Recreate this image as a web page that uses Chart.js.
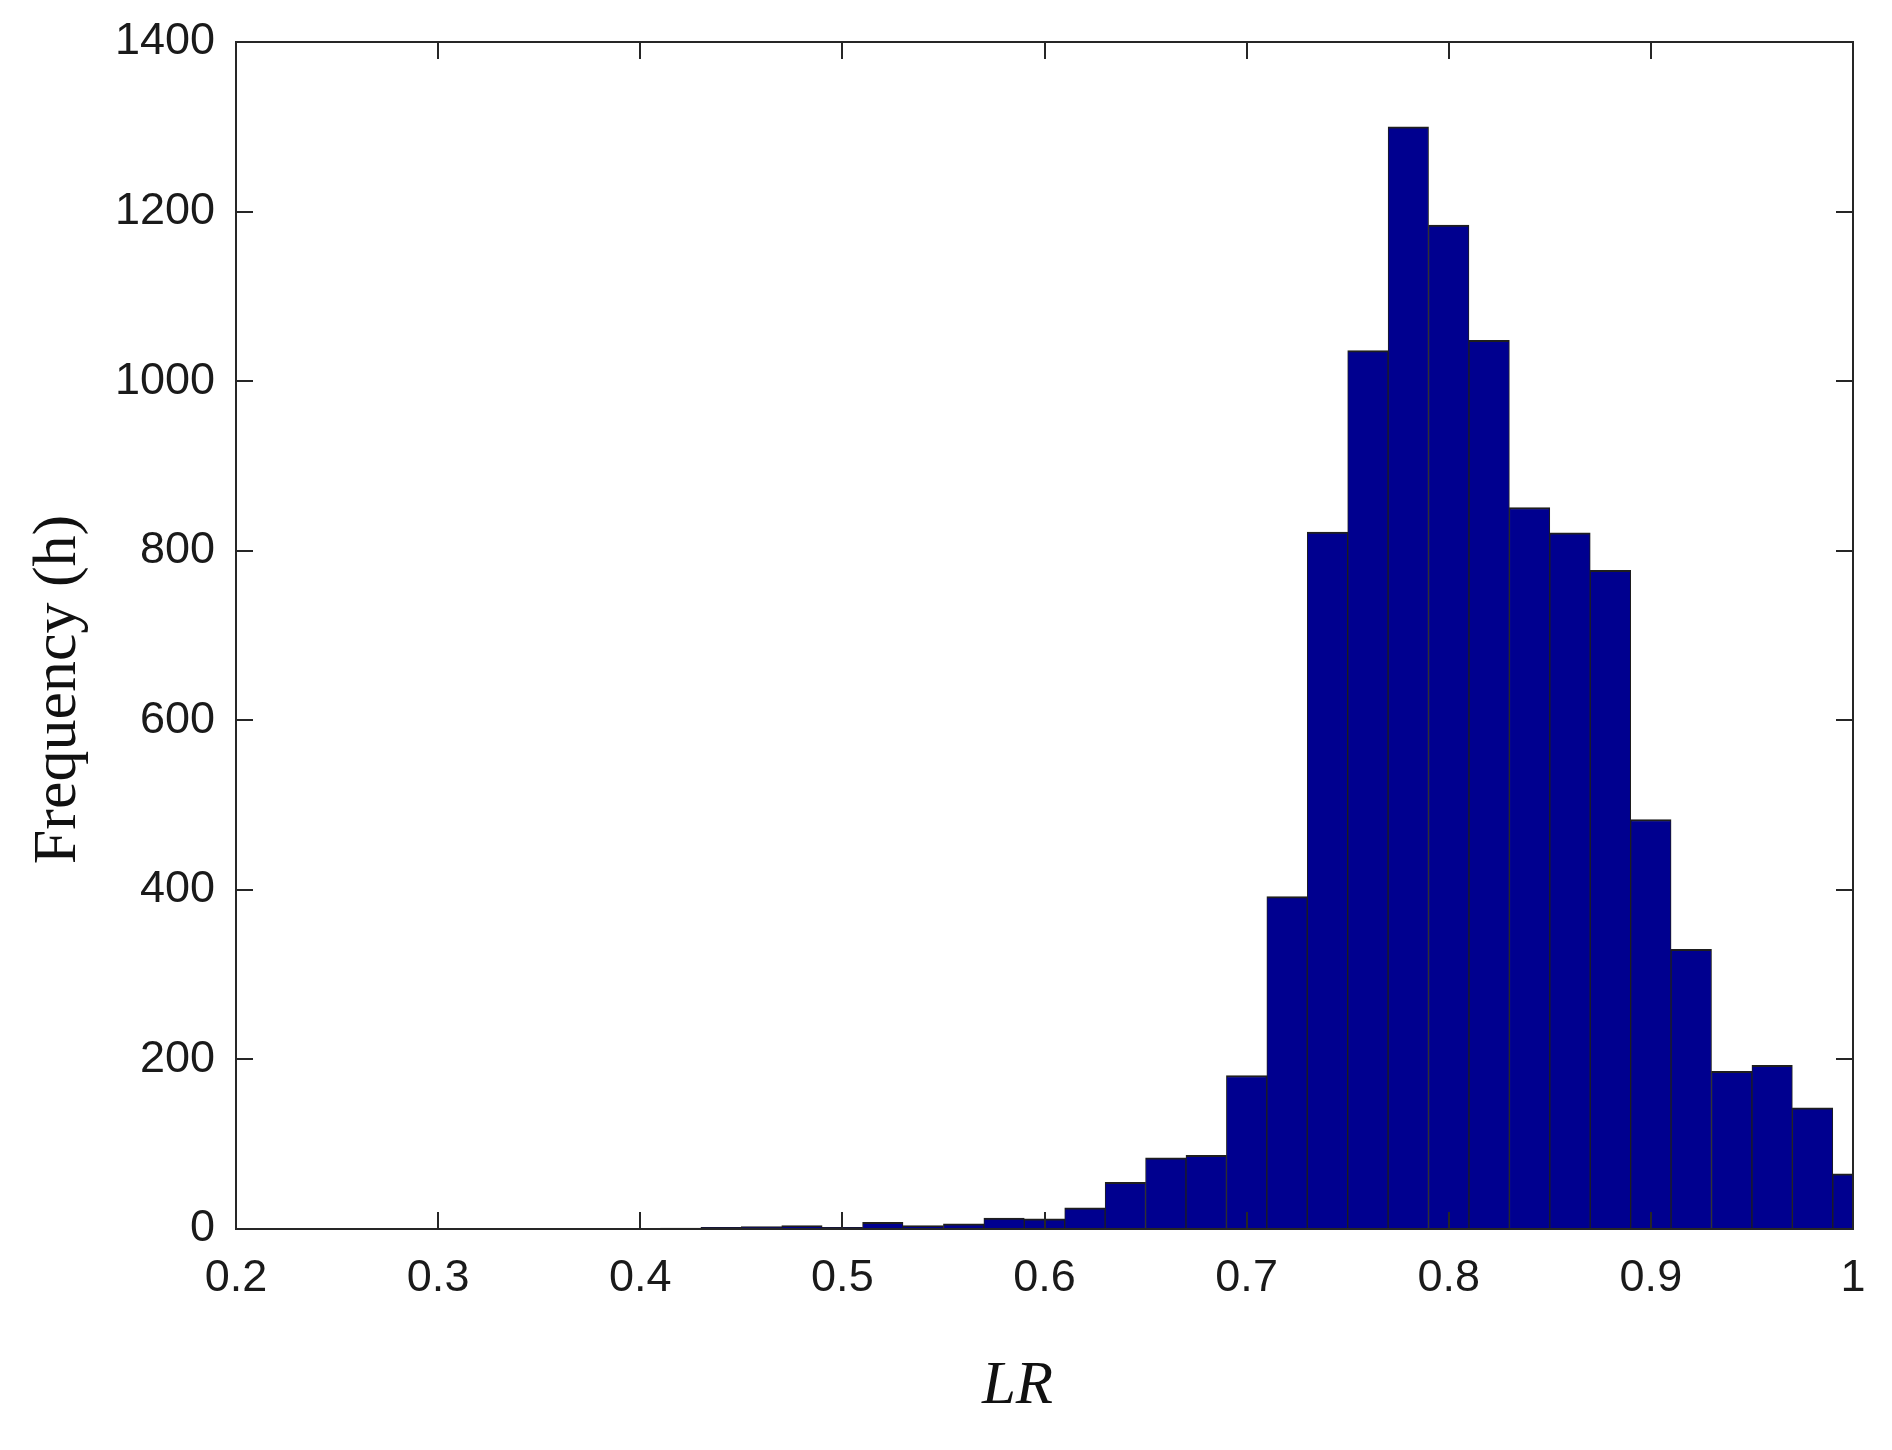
<!DOCTYPE html>
<html>
<head>
<meta charset="utf-8">
<script src="https://cdn.jsdelivr.net/npm/chart.js@4"></script>
<style>
  body { margin: 0; background: #fff; }
  #grafico { display: block; }
</style>
</head>
<body>
<canvas id="grafico" width="1892" height="1450"></canvas>
<script>
const centros = [0.22, 0.24, 0.26, 0.28, 0.30, 0.32, 0.34, 0.36, 0.38, 0.40,
    0.42, 0.44, 0.46, 0.48, 0.50, 0.52, 0.54, 0.56, 0.58, 0.60,
    0.62, 0.64, 0.66, 0.68, 0.70, 0.72, 0.74, 0.76, 0.78, 0.80,
    0.82, 0.84, 0.86, 0.88, 0.90, 0.92, 0.94, 0.96, 0.98, 1.00];
const frecuencias = [0, 0, 0, 0, 0, 0, 0, 0, 0, 0,
    1, 2, 3, 4, 2, 8, 4, 6, 13, 12,
    25, 55, 84, 87, 181, 392, 822, 1036, 1300, 1184,
    1048, 851, 821, 777, 483, 330, 186, 193, 143, 65];

// Marcas de los ejes
const ticksX = [0.2, 0.3, 0.4, 0.5, 0.6, 0.7, 0.8, 0.9, 1];
const ticksY = [0, 200, 400, 600, 800, 1000, 1200, 1400];

const tituloX = 'LR';
const tituloY = 'Frequency (h)';

const colorEje = '#262626';
const colorTexto = '#1a1a1a';

// Plugin para el marco, las marcas hacia dentro y los títulos
const marcoPlugin = {
    id: 'marco',
    afterDraw: (chart) => {
        const { ctx, chartArea: a, scales: { x, y } } = chart;
        const largo = 17;
        ctx.save();
        ctx.strokeStyle = colorEje;
        ctx.lineWidth = 2;
        ctx.beginPath();
        ctx.rect(a.left, a.top, a.right - a.left, a.bottom - a.top);
        ctx.stroke();

        ctx.beginPath();
        x.ticks.forEach(t => {
            const px = Math.round(x.getPixelForValue(t.value));
            ctx.moveTo(px, a.bottom);
            ctx.lineTo(px, a.bottom - largo);
            ctx.moveTo(px, a.top);
            ctx.lineTo(px, a.top + largo);
        });
        y.ticks.forEach(t => {
            const py = Math.round(y.getPixelForValue(t.value));
            ctx.moveTo(a.left, py);
            ctx.lineTo(a.left + largo, py);
            ctx.moveTo(a.right, py);
            ctx.lineTo(a.right - largo, py);
        });
        ctx.stroke();

        // títulos de los ejes
        ctx.fillStyle = '#111';
        ctx.textAlign = 'center';
        ctx.textBaseline = 'alphabetic';
        ctx.font = 'italic 61px "Liberation Serif"';
        ctx.fillText(tituloX, (a.left + a.right) / 2 - 27, a.bottom + 174);

        ctx.font = '62px "Liberation Serif"';
        ctx.translate(a.left - 161, (a.top + a.bottom) / 2 + 54);
        ctx.rotate(-Math.PI / 2);
        ctx.fillText(tituloY, 0, 0);
        ctx.restore();
    }
};

const ctx = document.getElementById('grafico').getContext('2d');

new Chart(ctx, {
    type: 'bar',
    data: {
        datasets: [{
            label: 'Frequency',
            data: centros.map((c, i) => ({ x: c, y: frecuencias[i] })),
            backgroundColor: '#00008F',
            borderColor: '#1e1e1e',
            borderWidth: { top: 2, left: 1, right: 1, bottom: 0 },
            borderSkipped: false,
            categoryPercentage: 1,
            barPercentage: 1,
            clip: 0
        }]
    },
    options: {
        responsive: false,
        animation: false,
        events: [],
        layout: {
            padding: { top: 42, right: 39, bottom: 0, left: 0 }
        },
        plugins: {
            legend: { display: false },
            tooltip: { enabled: false }
        },
        scales: {
            x: {
                type: 'linear',
                min: 0.2,
                max: 1,
                offset: false,
                afterBuildTicks: (eje) => {
                    eje.ticks = ticksX.map(v => ({ value: v }));
                },
                afterFit: (eje) => {
                    eje.height = 221;
                },
                grid: { display: false, offset: false, drawTicks: false },
                border: { display: false },
                ticks: {
                    padding: 23,
                    maxRotation: 0,
                    autoSkip: false,
                    color: colorTexto,
                    font: { family: '"Liberation Sans"', size: 45 },
                    callback: (v) => String(Number(v.toFixed(1)))
                }
            },
            y: {
                min: 0,
                max: 1400,
                afterBuildTicks: (eje) => {
                    eje.ticks = ticksY.map(v => ({ value: v }));
                },
                afterFit: (eje) => {
                    eje.width = 236;
                    eje.paddingTop = 0;
                    eje.paddingBottom = 0;
                },
                grid: { display: false, drawTicks: false },
                border: { display: false },
                ticks: {
                    padding: 21,
                    autoSkip: false,
                    color: colorTexto,
                    font: { family: '"Liberation Sans"', size: 45 },
                    callback: (v) => String(v)
                }
            }
        }
    },
    plugins: [marcoPlugin]
});
</script>
</body>
</html>
